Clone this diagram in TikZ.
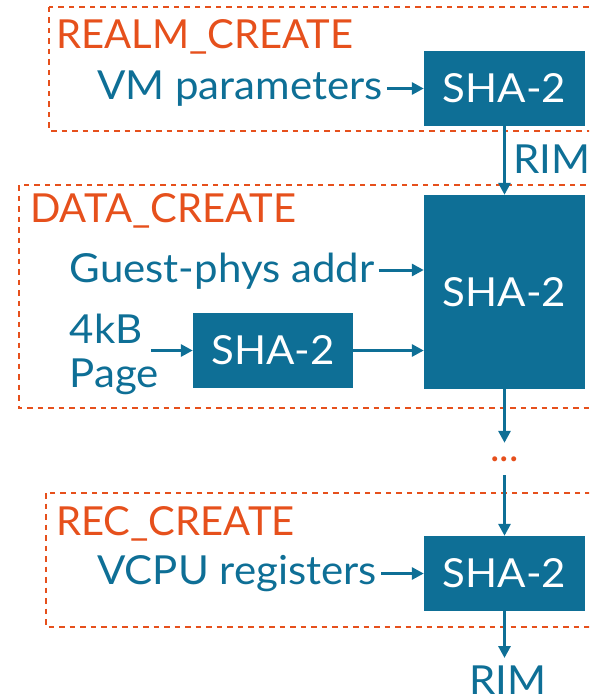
\documentclass[tikz,border=0pt]{standalone}
\usepackage{fontspec}
\setmainfont{Lato}[FakeStretch=1.05]
\newfontfamily\stagefont{Lato}
\usetikzlibrary{arrows.meta}
\definecolor{armblue}{HTML}{0E6F96}
\definecolor{armorange}{HTML}{E6501C}
\tikzset{
  hashbox/.style={fill=armblue, draw=none, text=white, inner sep=0,
    font=\fontsize{40}{48}\selectfont},
  lbl/.style={text=armblue, inner sep=0, font=\fontsize{40}{48}\selectfont},
  stage/.style={text=armorange, inner sep=0, font=\stagefont\fontsize{40}{48}\selectfont},
  dashbox/.style={draw=armorange, line width=2.5pt, dash pattern=on 5.5pt off 5pt},
  arr/.style={draw=armblue, line width=3pt, -{Triangle[length=12pt,width=12pt]}},
}
\begin{document}
\begin{tikzpicture}[x=1pt, y=-1pt]
\useasboundingbox (0,0) rectangle (589,698);
\clip (0,0) rectangle (589,698);

% stage frames (open to the right)
\draw[dashbox] (49,7) rectangle (620,131);
\draw[dashbox] (19,185) rectangle (620,408);
\draw[dashbox] (46,493) rectangle (620,627);

% stage names
\node[stage, anchor=base west] (realm) at (56,49) {REALM\_CREATE};
\node[stage, anchor=base west] (data) at (30,222) {DATA\_CREATE};
\node[stage, anchor=base west] (rec) at (56,535) {REC\_CREATE};

% hash blocks
\node[hashbox, minimum width=161, minimum height=75] (b1) at (504.5,88.5) {SHA-2};
\node[hashbox, minimum width=161, minimum height=194] (big) at (504.5,292) {SHA-2};
\node[hashbox, minimum width=160, minimum height=75] (small) at (273,350.5) {SHA-2};
\node[hashbox, minimum width=161, minimum height=75] (b3) at (504.5,573.5) {SHA-2};

% inputs
\node[lbl, anchor=base west, inner xsep=4pt] (vm) at (93,100) {VM parameters};
\node[lbl, anchor=base west, inner xsep=4pt] (guest) at (65.5,282) {Guest-phys addr};
\node[lbl, anchor=base west, inner xsep=8pt] (kb) at (61.5,343) {4kB};
\node[lbl, anchor=base west] (page) at (69.5,387) {Page};
\node[lbl, anchor=base west, inner xsep=4pt] (vcpu) at (93,584) {VCPU registers};

% outputs
\node[lbl, anchor=base west] (rim1) at (513,173) {RIM};
\node[lbl, anchor=north] (rim2) at (508,666) {RIM};
\node[stage, minimum height=32, minimum width=24] (dots) at (504.5,459) {...};

% connections
\draw[arr] (vm.east |- b1.west) -- (b1.west);
\draw[arr] (guest.east |- 0,270) -- (big.west |- 0,270);
\draw[arr] (kb.east |- small.west) -- (small.west);
\draw[arr] (small.east) -- (big.west |- small.east);
\draw[arr] (vcpu.east |- b3.west) -- (b3.west);
\draw[arr] (b1.south) -- (big.north);
\draw[arr] (big.south) -- (big.south |- dots.north);
\draw[arr] (big.south |- dots.south) -- (b3.north);
\draw[arr] (b3.south) -- ([yshift=8pt]b3.south |- rim2.north);
\end{tikzpicture}
\end{document}
